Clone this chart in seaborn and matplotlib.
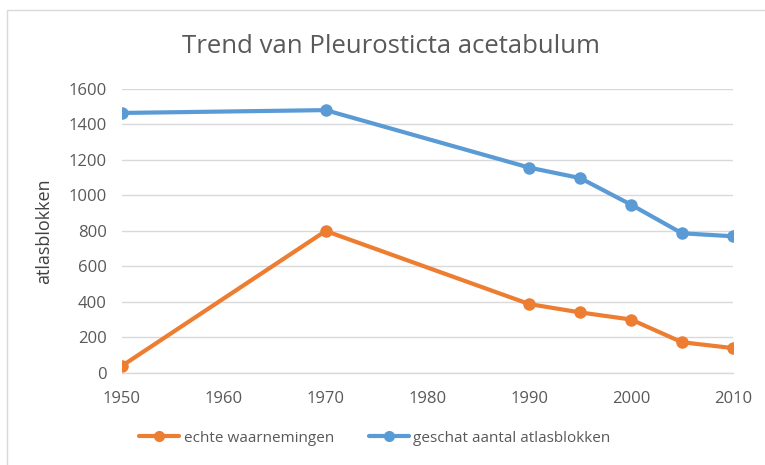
import matplotlib
matplotlib.use("Agg")
import matplotlib.pyplot as plt
import seaborn as sns
import pandas as pd
from matplotlib.patches import Rectangle
from matplotlib.lines import Line2D

years = [1950, 1970, 1990, 1995, 2000, 2005, 2010]
echte = [40, 800, 388, 341, 301, 173, 140]
geschat = [1465, 1481, 1157, 1098, 948, 787, 770]
series_names = ["echte waarnemingen", "geschat aantal atlasblokken"]
colors = ["#ED7D31", "#5B9BD5"]
yticks = [0, 200, 400, 600, 800, 1000, 1200, 1400, 1600]
xticks = [1950, 1960, 1970, 1980, 1990, 2000, 2010]

df = pd.DataFrame({
    "jaar": years * 2,
    "waarde": echte + geschat,
    "reeks": [series_names[0]] * len(years) + [series_names[1]] * len(years),
})

sns.set_theme(style="white")
plt.rcParams["font.family"] = ["Open Sans", "DejaVu Sans"]

fig = plt.figure(figsize=(7.65, 4.65), dpi=100)
ax = fig.add_axes([0.1595, 0.198, 0.7985, 0.6106])

# chart border (top/left visible)
fig.patches.append(Rectangle((7 / 765, -0.05), 1.2, 1 - 10 / 465 + 0.05,
                             transform=fig.transFigure, fill=False,
                             edgecolor="#D9D9D9", linewidth=1))

sns.lineplot(data=df, x="jaar", y="waarde", hue="reeks", palette=colors,
             marker="o", markersize=9, markeredgewidth=0, linewidth=3,
             ax=ax, legend=False)

ax.set_xlim(1950, 2010)
ax.set_ylim(0, 1600)
ax.set_xticks(xticks)
ax.set_yticks(yticks)
ax.yaxis.grid(True, color="#D9D9D9", linewidth=1)
ax.xaxis.grid(False)
for s in ["top", "right", "left"]:
    ax.spines[s].set_visible(False)
ax.spines["bottom"].set_color("#D9D9D9")
ax.spines["bottom"].set_linewidth(1)
ax.tick_params(axis="both", length=0, labelsize=12, labelcolor="#595959")
ax.tick_params(axis="x", pad=13)
ax.tick_params(axis="y", pad=11)
ax.set_xlabel("")
ax.set_ylabel("atlasblokken", fontsize=13, color="#404040", labelpad=11)

fig.text(0.511, 0.899, "Trend van Pleurosticta acetabulum", fontsize=18.5,
         color="#595959", fontweight="normal", ha="center", va="center")

handles = [Line2D([0], [0], color=c, lw=3, marker="o", markersize=8,
                  markeredgewidth=0) for c in colors]
fig.legend(handles, series_names, loc="center", bbox_to_anchor=(0.49, 0.058),
           ncol=2, frameon=False, fontsize=11, labelcolor="#595959",
           handlelength=2.6, handletextpad=0.3, columnspacing=2.3)

fig.savefig("out.png", dpi=100, facecolor="white")
